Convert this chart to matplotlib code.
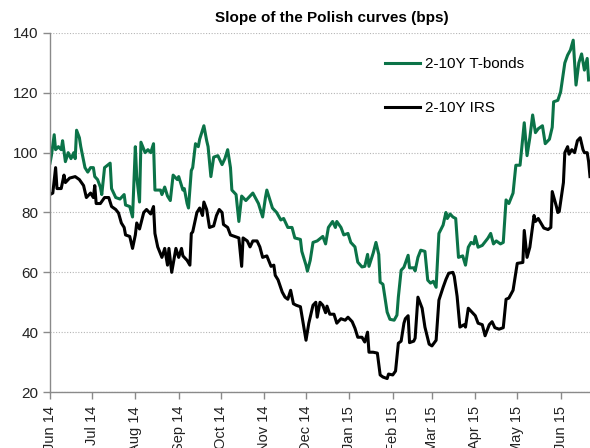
import matplotlib
matplotlib.use("Agg")
import matplotlib.pyplot as plt
import matplotlib.dates as mdates
import pandas as pd

plt.rcParams['font.family'] = ['Liberation Sans', 'DejaVu Sans']

# 2-10Y T-bonds slope (bps)
tb_dates = ["2014-06-01", "2014-06-02", "2014-06-04", "2014-06-05", "2014-06-07", "2014-06-09",
            "2014-06-10", "2014-06-12", "2014-06-14", "2014-06-16", "2014-06-18", "2014-06-19",
            "2014-06-20", "2014-06-22", "2014-06-23", "2014-06-26", "2014-06-28", "2014-06-30",
            "2014-07-02", "2014-07-03", "2014-07-05", "2014-07-07", "2014-07-08", "2014-07-10",
            "2014-07-14", "2014-07-15", "2014-07-16", "2014-07-18", "2014-07-21", "2014-07-24",
            "2014-07-25", "2014-07-28", "2014-07-30", "2014-08-01", "2014-08-02", "2014-08-04",
            "2014-08-05", "2014-08-08", "2014-08-10", "2014-08-12", "2014-08-14", "2014-08-15",
            "2014-08-19", "2014-08-20", "2014-08-22", "2014-08-24", "2014-08-26", "2014-08-28",
            "2014-08-31", "2014-09-01", "2014-09-04", "2014-09-05", "2014-09-07", "2014-09-08",
            "2014-09-10", "2014-09-11", "2014-09-13", "2014-09-15", "2014-09-16", "2014-09-19",
            "2014-09-21", "2014-09-22", "2014-09-24", "2014-09-26", "2014-09-29", "2014-10-02",
            "2014-10-04", "2014-10-06", "2014-10-08", "2014-10-09", "2014-10-12", "2014-10-14",
            "2014-10-16", "2014-10-19", "2014-10-21", "2014-10-24", "2014-10-28", "2014-10-31",
            "2014-11-02", "2014-11-03", "2014-11-07", "2014-11-10", "2014-11-13", "2014-11-15",
            "2014-11-18", "2014-11-21", "2014-11-23", "2014-11-27", "2014-11-28", "2014-12-01",
            "2014-12-02", "2014-12-04", "2014-12-06", "2014-12-09", "2014-12-13", "2014-12-15",
            "2014-12-17", "2014-12-20", "2014-12-22", "2014-12-23", "2014-12-26", "2014-12-28",
            "2014-12-31", "2015-01-02", "2015-01-05", "2015-01-07", "2015-01-10", "2015-01-12",
            "2015-01-14", "2015-01-15", "2015-01-18", "2015-01-20", "2015-01-22", "2015-01-23",
            "2015-01-25", "2015-01-28", "2015-01-30", "2015-02-02", "2015-02-04", "2015-02-05",
            "2015-02-07", "2015-02-09", "2015-02-12", "2015-02-13", "2015-02-16", "2015-02-17",
            "2015-02-19", "2015-02-21", "2015-02-24", "2015-02-26", "2015-02-28", "2015-03-02",
            "2015-03-04", "2015-03-06", "2015-03-09", "2015-03-11", "2015-03-12", "2015-03-14",
            "2015-03-16", "2015-03-18", "2015-03-20", "2015-03-23", "2015-03-25", "2015-03-27",
            "2015-03-29", "2015-03-31", "2015-04-01", "2015-04-03", "2015-04-06", "2015-04-10",
            "2015-04-12", "2015-04-14", "2015-04-16", "2015-04-19", "2015-04-21", "2015-04-23",
            "2015-04-25", "2015-04-28", "2015-04-30", "2015-05-03", "2015-05-06", "2015-05-08",
            "2015-05-10", "2015-05-12", "2015-05-14", "2015-05-16", "2015-05-19", "2015-05-21",
            "2015-05-24", "2015-05-26", "2015-05-27", "2015-05-30", "2015-06-01", "2015-06-04",
            "2015-06-06", "2015-06-08", "2015-06-10", "2015-06-12", "2015-06-14", "2015-06-16",
            "2015-06-18", "2015-06-20", "2015-06-21"]
tb_values = [96.5, 99, 106, 101, 102, 101, 104, 97, 100, 98, 100, 98,
             107.5, 105, 102, 95, 93.5, 95, 95, 92, 91, 88.5, 86, 95,
             96.5, 88, 87, 85, 84.5, 86, 82.5, 82, 78.5, 102, 92, 83.5,
             103.5, 100, 101, 100, 103, 87.5, 87.5, 86, 88.5, 85.5, 84, 92.5,
             91, 92, 87.5, 88, 83, 81.5, 94, 95, 103, 102, 104.5, 109,
             104, 102, 92, 98.5, 99, 96, 98, 101, 95, 87.5, 86, 77,
             85.5, 84, 85, 86.5, 83, 78.5, 85, 87.5, 81.5, 80, 77.5, 78,
             75, 75, 71.5, 71, 67, 62.4, 60.4, 64, 70, 70.5, 72, 69.5,
             75, 77, 75, 77, 75, 72.5, 73, 70, 68.5, 63.4, 61.8, 62,
             66, 62, 66.4, 70, 66, 56.7, 56, 46.7, 44.3, 44, 45.7, 51.7,
             60.7, 61.7, 65.7, 61.5, 61.5, 60.5, 65, 67.4, 67, 57.4, 56.4, 57,
             55, 73, 75.8, 80, 78, 79.5, 78.5, 78, 65, 65.5, 62.4, 68.4,
             70, 69.5, 72, 68.4, 69, 71.4, 73, 69.5, 70.5, 69.5, 70, 84.2,
             83, 86.5, 95.8, 95.8, 110, 99, 105, 112.6, 106.7, 108, 109, 103,
             104.5, 108.5, 117, 117.5, 120.3, 130, 132.6, 134.3, 137.6, 122.6, 130, 133,
             127.6, 131.5, 124.3]

# 2-10Y IRS slope (bps)
irs_dates = ["2014-06-01", "2014-06-03", "2014-06-05", "2014-06-06", "2014-06-09", "2014-06-11",
             "2014-06-12", "2014-06-15", "2014-06-19", "2014-06-22", "2014-06-25", "2014-06-27",
             "2014-06-30", "2014-07-02", "2014-07-03", "2014-07-04", "2014-07-07", "2014-07-10",
             "2014-07-13", "2014-07-15", "2014-07-18", "2014-07-20", "2014-07-22", "2014-07-24",
             "2014-07-25", "2014-07-28", "2014-07-30", "2014-08-01", "2014-08-02", "2014-08-04",
             "2014-08-07", "2014-08-09", "2014-08-12", "2014-08-14", "2014-08-15", "2014-08-17",
             "2014-08-20", "2014-08-22", "2014-08-24", "2014-08-25", "2014-08-27", "2014-08-30",
             "2014-09-01", "2014-09-03", "2014-09-04", "2014-09-07", "2014-09-09", "2014-09-10",
             "2014-09-11", "2014-09-14", "2014-09-16", "2014-09-18", "2014-09-19", "2014-09-21",
             "2014-09-23", "2014-09-26", "2014-09-28", "2014-09-30", "2014-10-02", "2014-10-03",
             "2014-10-06", "2014-10-08", "2014-10-11", "2014-10-14", "2014-10-16", "2014-10-17",
             "2014-10-20", "2014-10-22", "2014-10-24", "2014-10-27", "2014-10-29", "2014-10-31",
             "2014-11-03", "2014-11-06", "2014-11-08", "2014-11-09", "2014-11-11", "2014-11-14",
             "2014-11-16", "2014-11-18", "2014-11-20", "2014-11-22", "2014-11-24", "2014-11-27",
             "2014-11-29", "2014-12-01", "2014-12-03", "2014-12-06", "2014-12-08", "2014-12-09",
             "2014-12-11", "2014-12-13", "2014-12-15", "2014-12-16", "2014-12-18", "2014-12-21",
             "2014-12-23", "2014-12-26", "2014-12-29", "2014-12-31", "2015-01-03", "2015-01-05",
             "2015-01-07", "2015-01-10", "2015-01-12", "2015-01-14", "2015-01-15", "2015-01-18",
             "2015-01-21", "2015-01-23", "2015-01-25", "2015-01-28", "2015-01-29", "2015-02-01",
             "2015-02-03", "2015-02-05", "2015-02-07", "2015-02-09", "2015-02-10", "2015-02-12",
             "2015-02-13", "2015-02-16", "2015-02-17", "2015-02-19", "2015-02-22", "2015-02-24",
             "2015-02-27", "2015-03-01", "2015-03-04", "2015-03-06", "2015-03-09", "2015-03-11",
             "2015-03-13", "2015-03-16", "2015-03-17", "2015-03-19", "2015-03-21", "2015-03-24",
             "2015-03-25", "2015-03-27", "2015-03-30", "2015-04-01", "2015-04-03", "2015-04-06",
             "2015-04-08", "2015-04-11", "2015-04-13", "2015-04-15", "2015-04-18", "2015-04-21",
             "2015-04-23", "2015-04-25", "2015-04-28", "2015-05-01", "2015-05-05", "2015-05-06",
             "2015-05-08", "2015-05-10", "2015-05-13", "2015-05-14", "2015-05-16", "2015-05-20",
             "2015-05-23", "2015-05-25", "2015-05-26", "2015-05-29", "2015-05-30", "2015-05-31",
             "2015-06-03", "2015-06-04", "2015-06-06", "2015-06-07", "2015-06-09", "2015-06-11",
             "2015-06-13", "2015-06-15", "2015-06-17", "2015-06-18", "2015-06-20", "2015-06-21",
             "2015-06-22"]
irs_values = [86, 86.5, 95, 88, 88, 92.5, 90, 91.5, 92, 91, 89, 85,
              86.5, 85, 89, 83, 83, 85, 85, 82, 81, 79.8, 76.5, 75,
              72.5, 72, 68, 72.5, 76.5, 74.5, 80, 81, 79.5, 82, 73, 68.5,
              65, 68, 62.4, 68, 60, 68, 65, 68, 65.5, 64, 62.4, 73,
              73.5, 80, 81.5, 79, 83.5, 81, 75, 75.5, 79, 81, 80, 76,
              75, 72.5, 72, 71.5, 62, 71.5, 70.5, 68.5, 70.5, 70.5, 68.5, 65,
              65.5, 62, 62.4, 59, 57.5, 53.4, 51.7, 51, 54, 49.5, 49, 48.5,
              43, 37.3, 43, 49, 50, 45, 50, 49, 46.5, 48.7, 46, 46,
              43, 44.5, 44, 45, 43.5, 41.3, 38.3, 38.3, 36.7, 40, 33.3, 33.3,
              33, 25.7, 25, 24.5, 26, 25.7, 27, 36.3, 37, 43, 44.5, 45.5,
              36.5, 37, 38, 51.7, 48, 41.7, 36, 35.4, 37.3, 50.7, 55, 57.6,
              59.7, 60, 58.6, 52, 41.7, 42.5, 41.7, 48, 46.5, 45.5, 43, 42.5,
              38.8, 42.5, 43.5, 41.5, 41, 41.5, 51, 51.4, 54, 63, 63.3, 74,
              65, 68.4, 79, 77, 78, 74.8, 74.3, 75, 87, 82, 80, 80.3,
              90, 100, 102, 99.5, 101, 100, 104, 105, 101, 100, 100, 97,
              92]

y_ticks = [20, 40, 60, 80, 100, 120, 140]

tb = pd.Series(tb_values, index=pd.to_datetime(tb_dates))
irs = pd.Series(irs_values, index=pd.to_datetime(irs_dates))

fig = plt.figure(figsize=(5.9, 4.48), dpi=100)
ax = fig.add_axes([50 / 590, 56 / 448, 540 / 590, 359 / 448])

ax.plot(tb.index, tb.values, color="#0b7348", lw=2.2, label="2-10Y T-bonds")
ax.plot(irs.index, irs.values, color="black", lw=2.2, label="2-10Y IRS")

ax.set_ylim(20, 140)
ax.set_yticks(y_ticks)
ax.set_xlim(pd.Timestamp("2014-06-01"), pd.Timestamp("2015-06-22"))
ax.xaxis.set_major_locator(mdates.MonthLocator())
ax.xaxis.set_major_formatter(mdates.DateFormatter("%b %y"))
plt.setp(ax.get_xticklabels(), rotation=90)

ax.yaxis.grid(True, linestyle=(0, (1, 1.5)), color="#b5b5b5", linewidth=0.8)
ax.set_axisbelow(True)
for s in ["top", "right"]:
    ax.spines[s].set_visible(False)
for s in ["left", "bottom"]:
    ax.spines[s].set_color("#8a8a8a")
    ax.spines[s].set_linewidth(1.0)
ax.tick_params(axis="both", colors="#8a8a8a", labelcolor="#222222",
               labelsize=11, length=5, width=1.0)
ax.tick_params(axis="x", labelsize=10.5, pad=5)

ax.legend(loc="upper left", bbox_to_anchor=(0.62, 0.932), frameon=False,
          fontsize=11, handlelength=2.3, handletextpad=0.3, labelspacing=1.95,
          borderpad=0, borderaxespad=0)

fig.text(332 / 590, 1 - 18 / 448, "Slope of the Polish curves (bps)",
         ha="center", va="center", fontsize=11, fontweight="bold")

fig.savefig("out.png", dpi=100)
